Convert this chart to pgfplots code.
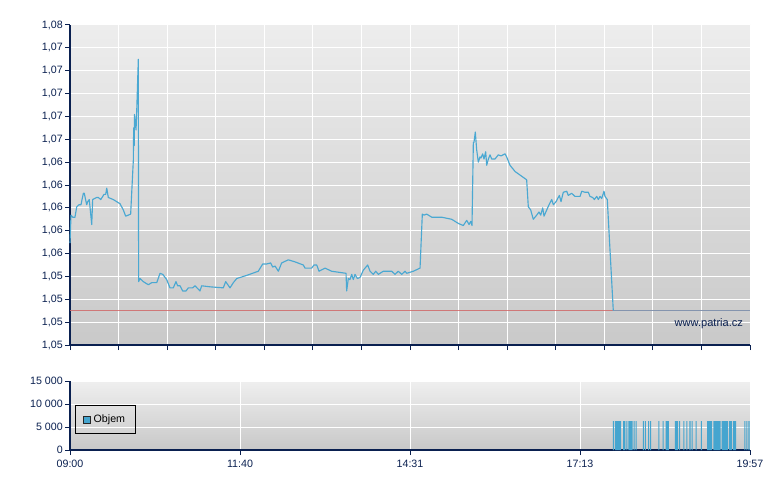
\documentclass[border=0pt]{standalone}
\usepackage{fontspec}
\setmainfont{Liberation Sans}
\usepackage{pgfplots}
\pgfplotsset{compat=1.18}
\usepackage{pgfplotstable}
\definecolor{navy}{HTML}{0A2050}
\definecolor{priceblue}{HTML}{4AA8D2}
\definecolor{barblue}{HTML}{45A5CF}
\definecolor{refred}{HTML}{D06A6A}
\definecolor{endgrey}{HTML}{8494AE}

\pgfplotstableread{
t v
0 1.0561
0.97 1.0588
2.6 1.0586
4.8 1.0586
6.5 1.0596
8.7 1.0598
10.6 1.0598
12.9 1.0609
13.8 1.0609
16.1 1.0598
17.1 1.0601
18.6 1.0603
21.0 1.0579
21.9 1.0603
25.8 1.0605
27.3 1.0605
29.7 1.0603
32.9 1.0608
34.5 1.0608
35.5 1.0614
37.0 1.0605
41.8 1.0603
48.3 1.0599
51.5 1.0593
53.8 1.0587
56.3 1.0588
58.6 1.0589
61.2 1.0641
61.5 1.0672
62.1 1.0655
62.3 1.0685
63.8 1.0670
64.4 1.0686
66.0 1.0738
66.3 1.0524
67.6 1.0527
70.8 1.0524
75.7 1.0521
78.9 1.0523
83.8 1.0523
87.0 1.0532
89.6 1.0531
93.4 1.0526
96.6 1.0518
99.8 1.0518
102.4 1.0524
104.0 1.0520
106.3 1.0520
108.9 1.0515
112.1 1.0515
114.3 1.0518
118.5 1.0518
120.8 1.0520
125.6 1.0515
127.2 1.0520
135.3 1.0519
148.1 1.0518
150.4 1.0524
154.6 1.0518
157.8 1.0523
161.1 1.0527
170.7 1.0530
181.9 1.0534
186.2 1.0541
190.0 1.0541
193.9 1.0542
195.8 1.0538
198.1 1.0539
201.3 1.0534
204.5 1.0542
210.9 1.0545
217.4 1.0543
225.4 1.0540
227.1 1.0537
233.5 1.0537
235.7 1.0540
238.4 1.0540
240.6 1.0534
246.4 1.0537
252.8 1.0534
266.7 1.0532
267.3 1.0515
268.9 1.0527
270.5 1.0526
272.2 1.0531
273.7 1.0526
275.4 1.0531
277.6 1.0527
280.2 1.0528
283.4 1.0535
287.6 1.0540
289.9 1.0534
293.0 1.0531
295.4 1.0534
297.9 1.0531
302.7 1.0534
310.8 1.0534
314.0 1.0531
317.2 1.0534
320.5 1.0531
323.7 1.0534
325.3 1.0532
331.7 1.0534
338.2 1.0537
340.4 1.0589
342.0 1.0588
344.6 1.0589
349.5 1.0586
359.1 1.0586
368.8 1.0584
375.2 1.0580
380.0 1.0578
383.3 1.0583
385.5 1.0579
387.2 1.0582
388.4 1.0578
389.7 1.0658
390.3 1.0658
391.6 1.0668
392.9 1.0651
394.5 1.0639
396.1 1.0644
397.1 1.0643
398.7 1.0647
400.0 1.0642
401.6 1.0649
402.6 1.0636
404.2 1.0642
405.8 1.0646
407.4 1.0642
410.6 1.0642
412.2 1.0644
413.8 1.0646
416.4 1.0645
420.3 1.0647
421.9 1.0644
425.1 1.0636
430.0 1.0630
441.2 1.0622
442.8 1.0596
445.1 1.0593
447.6 1.0584
450.9 1.0588
453.1 1.0591
454.8 1.0588
456.7 1.0595
458.0 1.0587
460.6 1.0593
462.8 1.0598
465.4 1.0603
467.0 1.0598
469.6 1.0601
472.8 1.0607
474.4 1.0601
476.6 1.0610
479.9 1.0611
481.4 1.0607
484.7 1.0609
487.9 1.0606
492.8 1.0606
494.4 1.0611
497.6 1.0610
500.8 1.0610
502.4 1.0606
505.0 1.0605
506.6 1.0603
508.9 1.0606
510.4 1.0603
512.1 1.0606
513.7 1.0604
515.9 1.0611
516.9 1.0606
519.1 1.0603
524.9 1.0496
}\pricetable

\pgfplotstableread{
t vol
525 6300
527 6300
528 6300
529 6300
530 6300
531 6300
532 6300
535 6300
536 6300
538 6300
540 6300
541 6300
542 6300
543 6300
545 6300
547 6300
554 6300
556 6300
559 6300
561 6300
569 6300
573 6300
576 6300
577 6300
578 6300
585 6300
586 6300
587 6300
589 6300
593 6300
596 6300
599 6300
601 6300
605 6300
610 6300
616 6300
617 6300
618 6300
619 6300
620 6300
622 6300
623 6300
624 6300
625 6300
626 6300
627 6300
628 6300
630 6300
631 6300
632 6300
633 6300
634 6300
635 6300
637 6300
638 6300
639 6300
641 6300
642 6300
643 6300
652 6300
654 6300
656 6300
}\voltable

\pgfplotsset{chartbase/.style={
  scale only axis, width=510pt,
  xmin=0, xmax=657,
  axis x line*=bottom, axis y line*=left,
  axis line style={navy, line width=0.9pt, -},
  tick style={navy, line width=0.75pt},
  major tick length=3.75pt,
  tick align=outside,
  grid=major, grid style={white, line width=0.75pt},
  ticklabel style={font=\fontsize{8}{9.6}\selectfont, text=navy},
  yticklabel style={inner sep=1.5pt},
  scaled ticks=false,
  /pgf/number format/assume math mode=true,
  clip=false,
}}

\begin{document}
\begin{tikzpicture}
\useasboundingbox (0,0) rectangle (585pt,367.5pt);
\begin{axis}[chartbase,
  at={(52.5pt,108.75pt)}, anchor=south west,
  height=240pt,
  ymin=1.0463, ymax=1.0771,
  axis background/.style={shade, top color={rgb,255:red,237;green,237;blue,237}, bottom color={rgb,255:red,201;green,201;blue,201}},
  xtick={0,46.93,93.86,140.79,187.71,234.64,281.57,328.5,375.43,422.36,469.29,516.21,563.14,610.07,657},
  xticklabels={},
  ytick={1.0463,1.0485,1.0507,1.0529,1.0551,1.0573,1.0595,1.0617,1.0639,1.0661,1.0683,1.0705,1.0727,1.0749,1.0771},
  yticklabels={{1,05},{1,05},{1,05},{1,05},{1,06},{1,06},{1,06},{1,06},{1,06},{1,07},{1,07},{1,07},{1,07},{1,07},{1,08}},
]
\addplot[refred, line width=0.9pt, opacity=0.85] coordinates {(0,1.0496) (657,1.0496)};
\addplot[endgrey, line width=0.9pt] coordinates {(524.9,1.0496) (657,1.0496)};
\addplot[priceblue, line width=0.85pt, line join=round] table[x=t, y=v] {\pricetable};
\node[anchor=east, text=navy, font=\fontsize{8.3}{10}\selectfont, inner sep=0pt] at (rel axis cs:0.99,0.068) {www.patria.cz};
\end{axis}
\begin{axis}[chartbase,
  at={(52.5pt,30pt)}, anchor=south west,
  height=51.75pt,
  ymin=0, ymax=15000,
  axis background/.style={shade, top color={rgb,255:red,239;green,239;blue,239}, bottom color={rgb,255:red,200;green,200;blue,200}},
  xtick={0,164.25,328.5,492.75,657},
  xticklabels={09:00,11:40,14:31,17:13,19:57},
  ytick={0,5000,10000,15000},
  yticklabels={0,5 000,10 000,15 000},
  legend style={at={(rel axis cs:0.008,0.652)}, anchor=north west, fill=none, draw=black, line width=0.75pt,
    font=\fontsize{8}{9.6}\selectfont, inner xsep=5.5pt, inner ysep=5pt},
  legend image code/.code={\draw[fill=barblue, draw=black!85, line width=0.6pt] (0pt,-2.6pt) rectangle (5.2pt,2.6pt);},
]
\addplot[ybar, bar width=1, bar shift=0pt, fill=barblue, draw=none] table[x=t, y=vol] {\voltable};
\addlegendentry{Objem}
\end{axis}
\end{tikzpicture}
\end{document}
